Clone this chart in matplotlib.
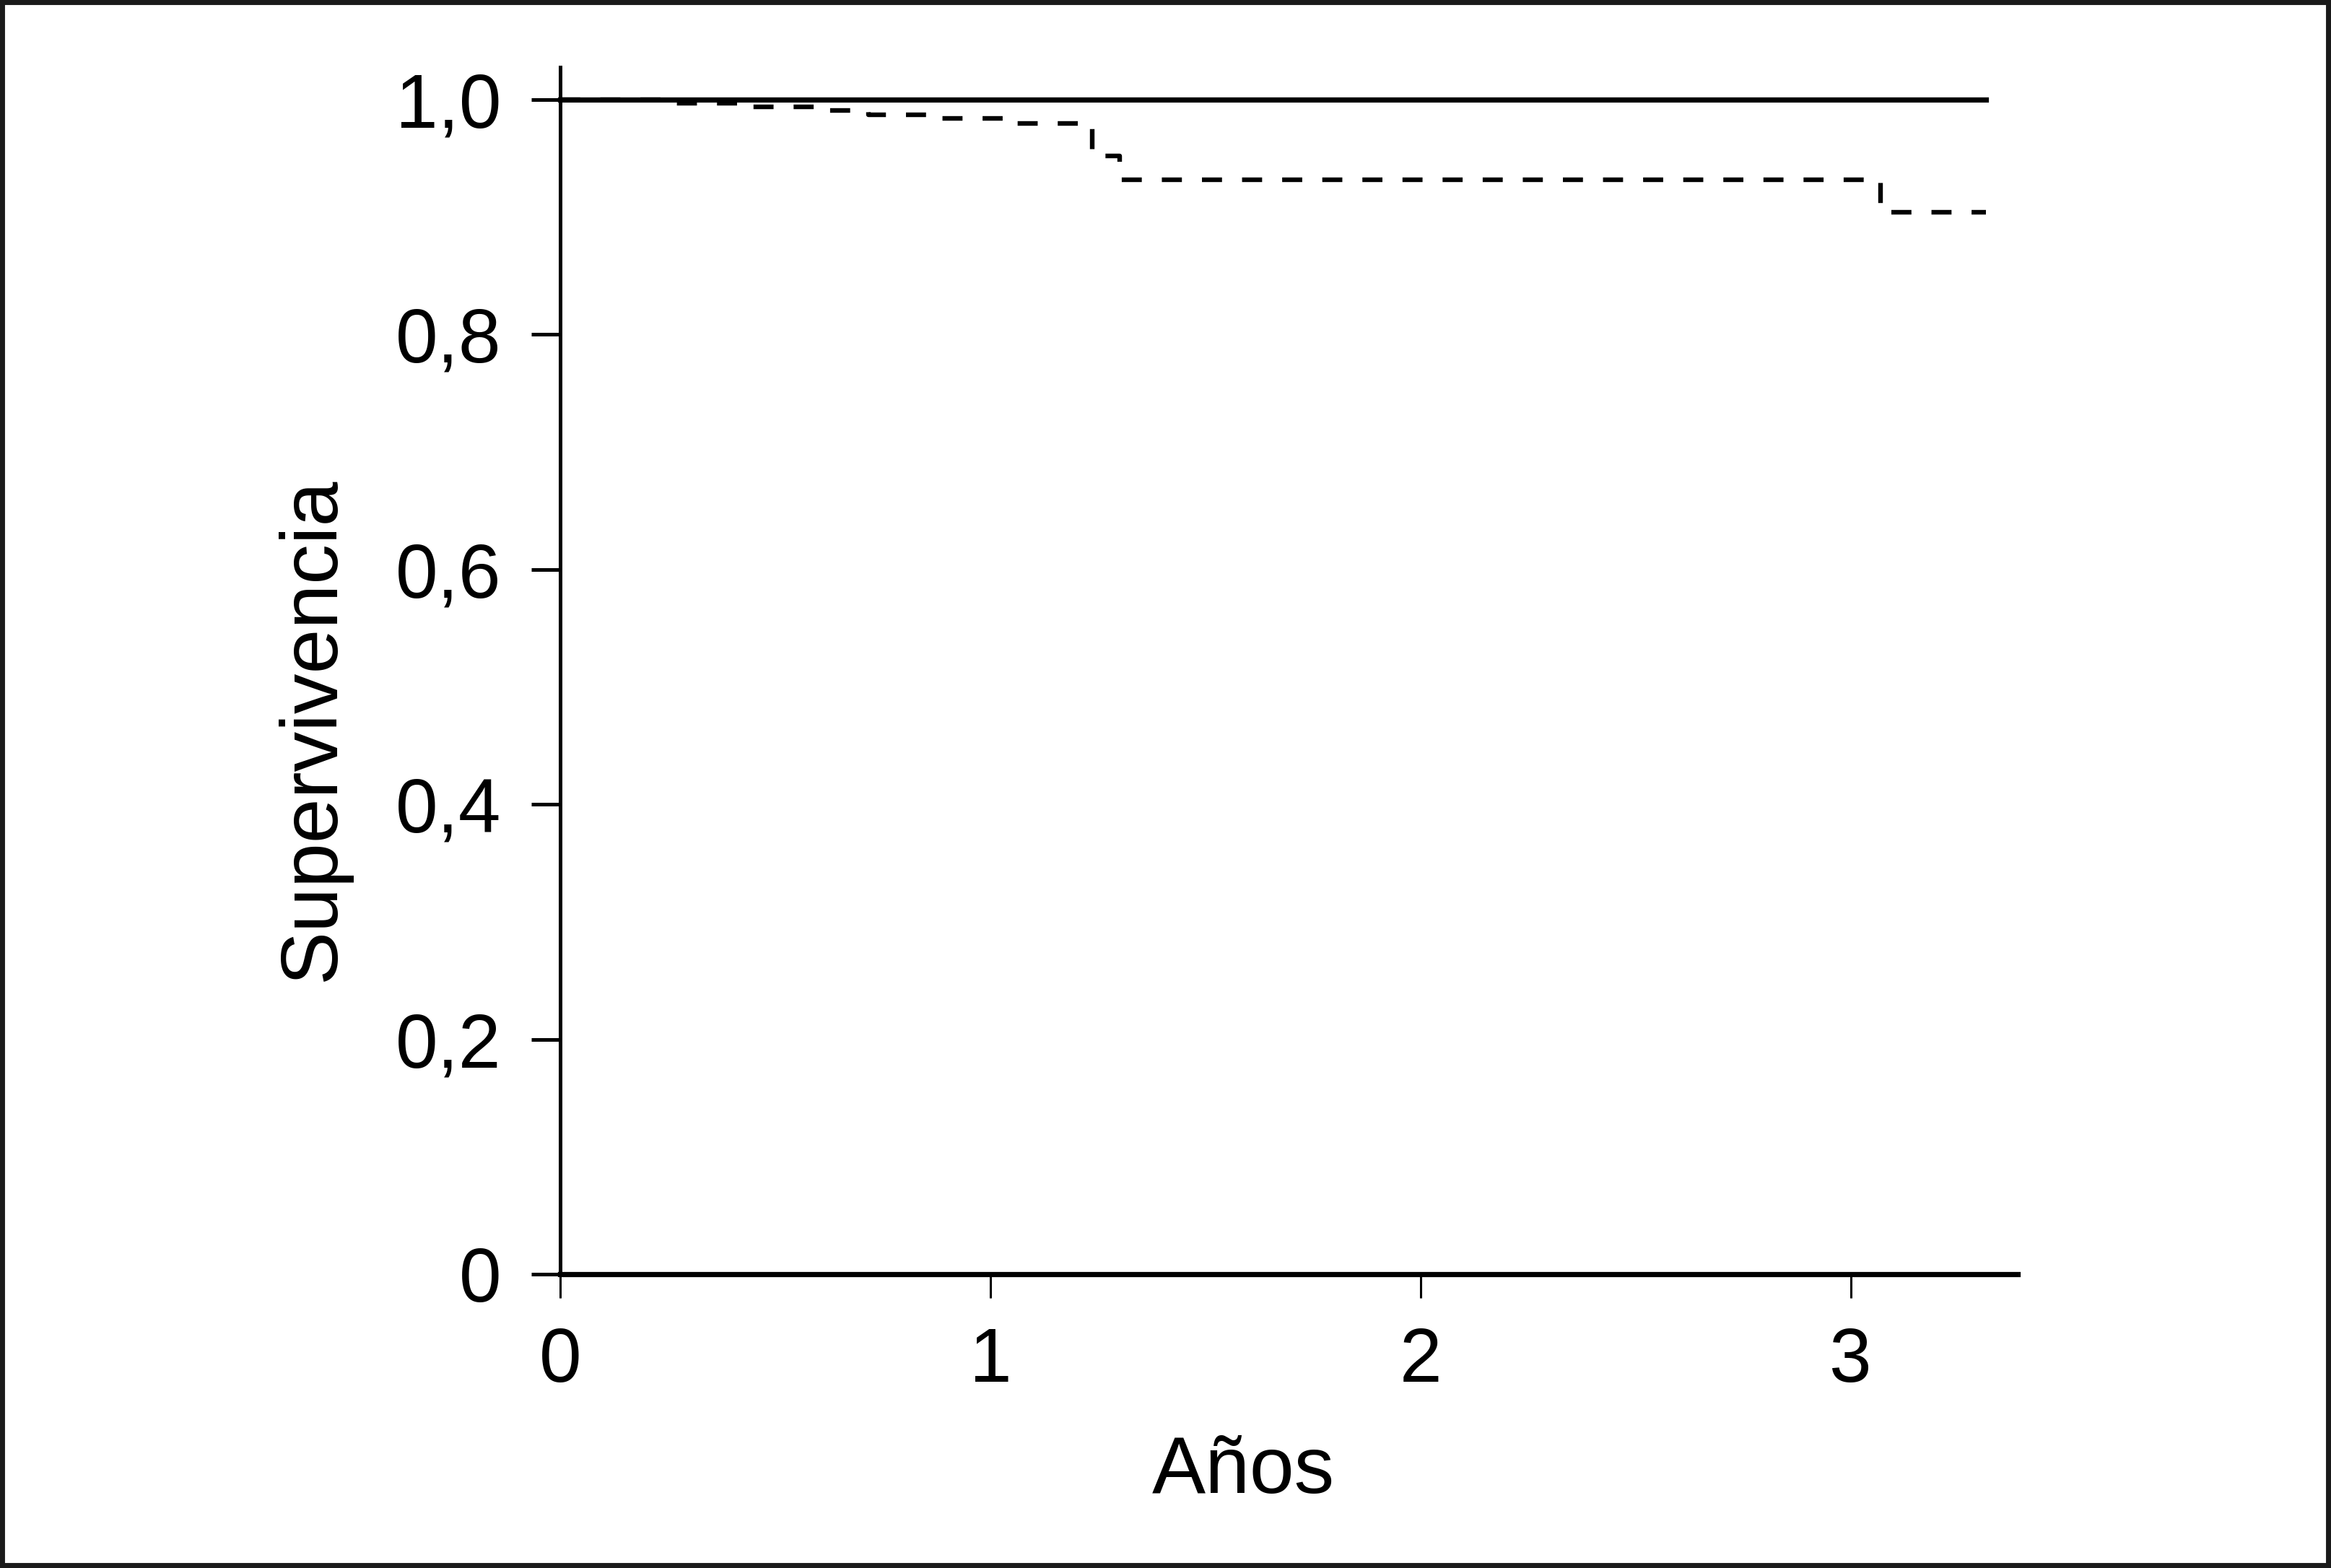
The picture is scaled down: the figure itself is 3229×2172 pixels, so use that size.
import matplotlib
matplotlib.use("Agg")
import matplotlib.pyplot as plt
from matplotlib.patches import Rectangle

# datos (curvas de Kaplan-Meier)
years_dashed = [0, 0.25, 0.415, 0.59, 0.717, 0.884, 1.034, 1.236, 1.30, 3.07, 3.314]
surv_dashed = [1.0, 0.997, 0.994, 0.991, 0.987, 0.984, 0.980, 0.952, 0.932, 0.904, 0.904]
years_solid = [0, 3.314]
surv_solid = [1.0, 1.0]

xticks = [0, 1, 2, 3]
xtick_labels = ['0', '1', '2', '3']
yticks = [0, 0.2, 0.4, 0.6, 0.8, 1.0]
ytick_labels = ['0', '0,2', '0,4', '0,6', '0,8', '1,0']

plt.rcParams['font.family'] = ['Liberation Sans', 'DejaVu Sans']
plt.rcParams['lines.scale_dashes'] = False

DPI = 200
fig = plt.figure(figsize=(3229 / DPI, 2172 / DPI), dpi=DPI)
fig.patch.set_facecolor('white')

W, H = 3229, 2172
ax = fig.add_axes([776 / W, 1 - 1765 / H, (2795 - 776) / W, (1765 - 93) / H])

# curva discontinua primero, la continua encima
ax.step(years_dashed, surv_dashed, where='post', color='black', lw=2.3,
        dashes=(10, 10), clip_on=False)
ax.step(years_solid, surv_solid, where='post', color='black', lw=2.6,
        clip_on=False)

ax.set_xlim(0, 3.388)
ax.set_ylim(0, 1.0277)

ax.spines['top'].set_visible(False)
ax.spines['right'].set_visible(False)
ax.spines['bottom'].set_linewidth(2.6)
ax.spines['left'].set_linewidth(1.8)

ax.set_xticks(xticks)
ax.set_xticklabels(xtick_labels)
ax.set_yticks(yticks)
ax.set_yticklabels(ytick_labels)
ax.tick_params(axis='x', length=12, width=1.1, pad=14, labelsize=38)
ax.tick_params(axis='y', length=14.4, width=1.8, pad=15, labelsize=38)

fig.text(463 / W, 1 - 1010 / H, 'Supervivencia', rotation=90,
         rotation_mode='anchor', ha='center', va='baseline', fontsize=40)
fig.text(1722 / W, 1 - 2068 / H, 'Años', ha='center', va='baseline',
         fontsize=40)

# marco exterior
fig.patches.append(Rectangle((0, 0), 1, 1, transform=fig.transFigure,
                             fill=False, lw=5, edgecolor='#1a1a1a'))

fig.savefig('out.png', dpi=DPI)
